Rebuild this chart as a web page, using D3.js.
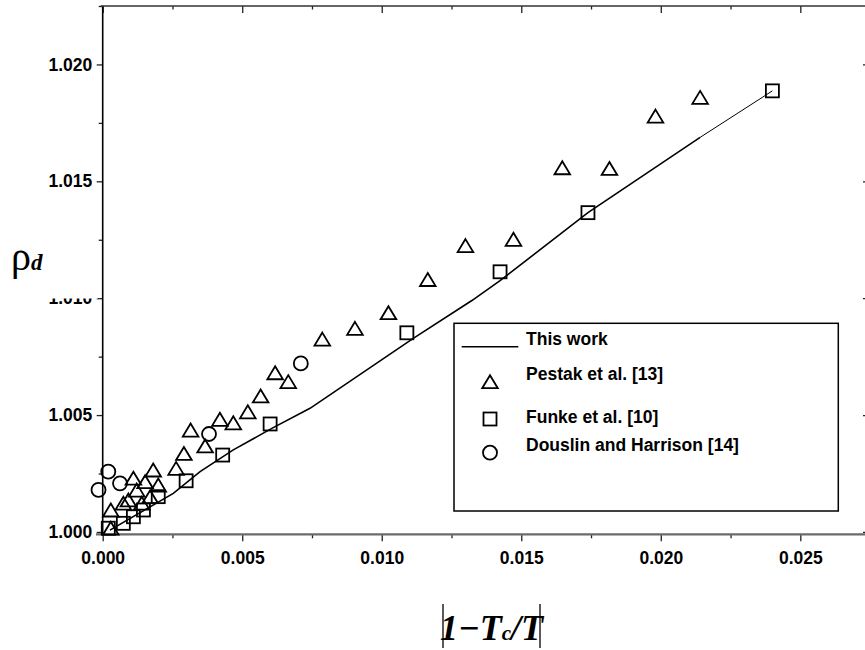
<!DOCTYPE html>
<html>
<head>
<meta charset="utf-8">
<script src="https://cdn.jsdelivr.net/npm/d3@7"></script>
<style>
body { margin: 0; background: #fff; }
</style>
</head>
<body>
<div id="chart"></div>
<script>
// model curve ("This work")
var thisWorkX = [0.00026, 0.00253, 0.00349, 0.00468, 0.00606, 0.00743, 0.01113, 0.01323, 0.01424, 0.01739, 0.02141, 0.02400];
var thisWorkY = [1.00008, 1.00165, 1.00258, 1.00351, 1.00443, 1.00529, 1.00828, 1.00990, 1.01075, 1.01366, 1.01688, 1.01887];

// Pestak et al. [13]
var pestakX = [0.02141, 0.01981, 0.01816, 0.01647, 0.01472, 0.01300, 0.01165, 0.01024, 0.00904, 0.00787, 0.00665, 0.00618,
               0.00566, 0.00520, 0.00420, 0.00468, 0.00315, 0.00367, 0.00291, 0.00263, 0.00181, 0.00110, 0.00152, 0.00199,
               0.00122, 0.00170, 0.00140, 0.00092, 0.00074, 0.00029, 0.00029];
var pestakY = [1.01859, 1.01779, 1.01555, 1.01558, 1.01252, 1.01225, 1.01080, 1.00938, 1.00871, 1.00825, 1.00643, 1.00681,
               1.00582, 1.00514, 1.00482, 1.00467, 1.00436, 1.00368, 1.00336, 1.00272, 1.00265, 1.00230, 1.00215, 1.00201,
               1.00179, 1.00151, 1.00123, 1.00137, 1.00123, 1.00094, 1.00016];

// Funke et al. [10]
var funkeX = [0.02400, 0.01739, 0.01424, 0.01090, 0.00600, 0.00430, 0.00299, 0.00199, 0.00146, 0.00110, 0.00074, 0.00020];
var funkeY = [1.01887, 1.01366, 1.01113, 1.00852, 1.00462, 1.00329, 1.00219, 1.00151, 1.00094, 1.00065, 1.00037, 1.00016];

// Douslin and Harrison [14]
var douslinX = [0.00710, 0.00381, 0.00020, 0.00062, -0.00015];
var douslinY = [1.00721, 1.00419, 1.00258, 1.00208, 1.00180];

var xMajor = [0, 0.005, 0.010, 0.015, 0.020, 0.025];
var xMinor = [0.0025, 0.0075, 0.0125, 0.0175, 0.0225, 0.0275];
var yMajor = [1.000, 1.005, 1.010, 1.015, 1.020];
var yMinor = [1.0025, 1.0075, 1.0125, 1.0175, 1.0225];

var legendNames = ["This work", "Pestak et al. [13]", "Funke et al. [10]", "Douslin and Harrison [14]"];

var width = 865, height = 650;
var svg = d3.select("#chart").append("svg")
    .attr("width", width)
    .attr("height", height)
    .style("font-family", "'Liberation Sans', Arial, sans-serif");

var x = d3.scaleLinear().domain([0, 0.02739]).range([102.7, 867]);
var y = d3.scaleLinear().domain([0.9999, 1.0225]).range([534.3, 6]);

function styleAxis(g) {
    g.select(".domain").remove();
    g.selectAll("line").attr("stroke", "#222").attr("stroke-width", 1.3);
    g.selectAll("text").attr("fill", "#000").style("font-size", "17.5px").style("font-weight", "bold")
        .style("font-family", "'Liberation Sans', Arial, sans-serif");
}

// bottom axis
svg.append("g").attr("transform", "translate(0,534.3)")
    .call(d3.axisBottom(x).tickValues(xMajor).tickSize(7).tickPadding(10.5).tickFormat(d3.format(".3f")))
    .call(styleAxis);
svg.append("g").attr("transform", "translate(0,534.3)")
    .call(d3.axisBottom(x).tickValues(xMinor).tickSize(4).tickFormat(""))
    .call(styleAxis);

// top axis (ticks inside)
svg.append("g").attr("transform", "translate(0,6)")
    .call(d3.axisTop(x).tickValues(xMajor).tickSizeInner(-7).tickSizeOuter(0).tickFormat(""))
    .call(styleAxis);
svg.append("g").attr("transform", "translate(0,6)")
    .call(d3.axisTop(x).tickValues(xMinor).tickSizeInner(-3.5).tickSizeOuter(0).tickFormat(""))
    .call(styleAxis);

// left axis
svg.append("g").attr("transform", "translate(102.7,0)")
    .call(d3.axisLeft(y).tickValues(yMajor).tickSize(6).tickPadding(4.5).tickFormat(d3.format(".3f")))
    .call(styleAxis);
svg.append("g").attr("transform", "translate(102.7,0)")
    .call(d3.axisLeft(y).tickValues(yMinor).tickSize(4).tickFormat(""))
    .call(styleAxis);

// right axis, mostly outside the picture
svg.append("g").attr("transform", "translate(867,0)")
    .call(d3.axisRight(y).tickValues(yMajor).tickSizeInner(-4).tickSizeOuter(0).tickFormat(""))
    .call(styleAxis);

// frame lines
svg.append("line").attr("x1", 96).attr("x2", 867).attr("y1", 534.3).attr("y2", 534.3)
    .attr("stroke", "#6a6a6a").attr("stroke-width", 2.2);
svg.append("line").attr("x1", 102.7).attr("x2", 102.7).attr("y1", 6).attr("y2", 534.3)
    .attr("stroke", "#000").attr("stroke-width", 1.6);
svg.append("line").attr("x1", 100.7).attr("x2", 867).attr("y1", 6).attr("y2", 6)
    .attr("stroke", "#333").attr("stroke-width", 1.6);

// y title, its white box hides the top of the 1.010 label
svg.append("rect").attr("x", 0).attr("y", 236).attr("width", 98).attr("height", 62.5).attr("fill", "#fff");
var yt = svg.append("text").attr("x", 11).attr("y", 270);
yt.append("tspan").text("ρ").style("font-family", "'Liberation Serif', 'Times New Roman', serif").style("font-size", "40px");
yt.append("tspan").text("d").style("font-family", "'Liberation Serif', 'Times New Roman', serif")
    .style("font-size", "23px").style("font-style", "italic").style("font-weight", "bold");

// x title |1-Tc/T|
svg.append("line").attr("x1", 443).attr("x2", 443).attr("y1", 604).attr("y2", 648).attr("stroke", "#000").attr("stroke-width", 1.3);
svg.append("line").attr("x1", 540).attr("x2", 540).attr("y1", 604).attr("y2", 648).attr("stroke", "#000").attr("stroke-width", 1.3);
var xt = svg.append("text").attr("x", 491.5).attr("y", 640).attr("text-anchor", "middle")
    .style("font-family", "'Liberation Serif', 'Times New Roman', serif")
    .style("font-style", "italic").style("font-weight", "bold").style("font-size", "36px");
xt.append("tspan").text("1−T");
xt.append("tspan").text("c").style("font-size", "21px");
xt.append("tspan").text("/T");

// model line, thinner on its last stretch
var line = d3.line().x(function (d) { return x(d[0]); }).y(function (d) { return y(d[1]); });
var curve = d3.zip(thisWorkX, thisWorkY);
svg.append("path")
    .datum(curve.slice(0, curve.length - 1))
    .attr("d", line)
    .attr("fill", "none")
    .attr("stroke", "#000")
    .attr("stroke-width", 1.6);
svg.append("path")
    .datum(curve.slice(curve.length - 2))
    .attr("d", line)
    .attr("fill", "none")
    .attr("stroke", "#000")
    .attr("stroke-width", 1);

// marker shapes
var triPath = "M0,-6.5L7.8,6.5L-7.8,6.5Z";
function drawMarkers(xs, ys, kind) {
    var pts = d3.zip(xs, ys);
    var g = svg.append("g").attr("fill", "none").attr("stroke", "#000").attr("stroke-width", 1.8);
    if (kind === "tri") {
        g.selectAll("path").data(pts).enter().append("path")
            .attr("d", triPath)
            .attr("transform", function (d) { return "translate(" + x(d[0]) + "," + y(d[1]) + ")"; });
    } else if (kind === "sq") {
        g.selectAll("rect").data(pts).enter().append("rect")
            .attr("x", function (d) { return x(d[0]) - 6.5; })
            .attr("y", function (d) { return y(d[1]) - 6.5; })
            .attr("width", 13).attr("height", 13);
    } else {
        g.selectAll("circle").data(pts).enter().append("circle")
            .attr("cx", function (d) { return x(d[0]); })
            .attr("cy", function (d) { return y(d[1]); })
            .attr("r", 7);
    }
}
drawMarkers(funkeX, funkeY, "sq");
drawMarkers(pestakX, pestakY, "tri");
drawMarkers(douslinX, douslinY, "circ");

// legend
var lg = svg.append("g");
lg.append("rect").attr("x", 454).attr("y", 323.3).attr("width", 384.3).attr("height", 187.7)
    .attr("fill", "#fff").attr("stroke", "#000").attr("stroke-width", 1.5);
lg.append("line").attr("x1", 461.7).attr("x2", 518.3).attr("y1", 346.7).attr("y2", 346.7)
    .attr("stroke", "#000").attr("stroke-width", 1.5);
lg.append("path").attr("d", triPath).attr("transform", "translate(490,381.7)")
    .attr("fill", "none").attr("stroke", "#000").attr("stroke-width", 1.8);
lg.append("rect").attr("x", 483.5).attr("y", 412.5).attr("width", 13).attr("height", 13)
    .attr("fill", "none").attr("stroke", "#000").attr("stroke-width", 1.8);
lg.append("circle").attr("cx", 490).attr("cy", 452.7).attr("r", 7)
    .attr("fill", "none").attr("stroke", "#000").attr("stroke-width", 1.8);
var legendY = [344.5, 379.5, 423, 451];
lg.selectAll("text.lab").data(legendNames).enter().append("text")
    .attr("class", "lab")
    .attr("x", 526)
    .attr("y", function (d, i) { return legendY[i]; })
    .style("font-size", "17.5px").style("font-weight", "bold")
    .text(function (d) { return d; });
</script>
</body>
</html>
